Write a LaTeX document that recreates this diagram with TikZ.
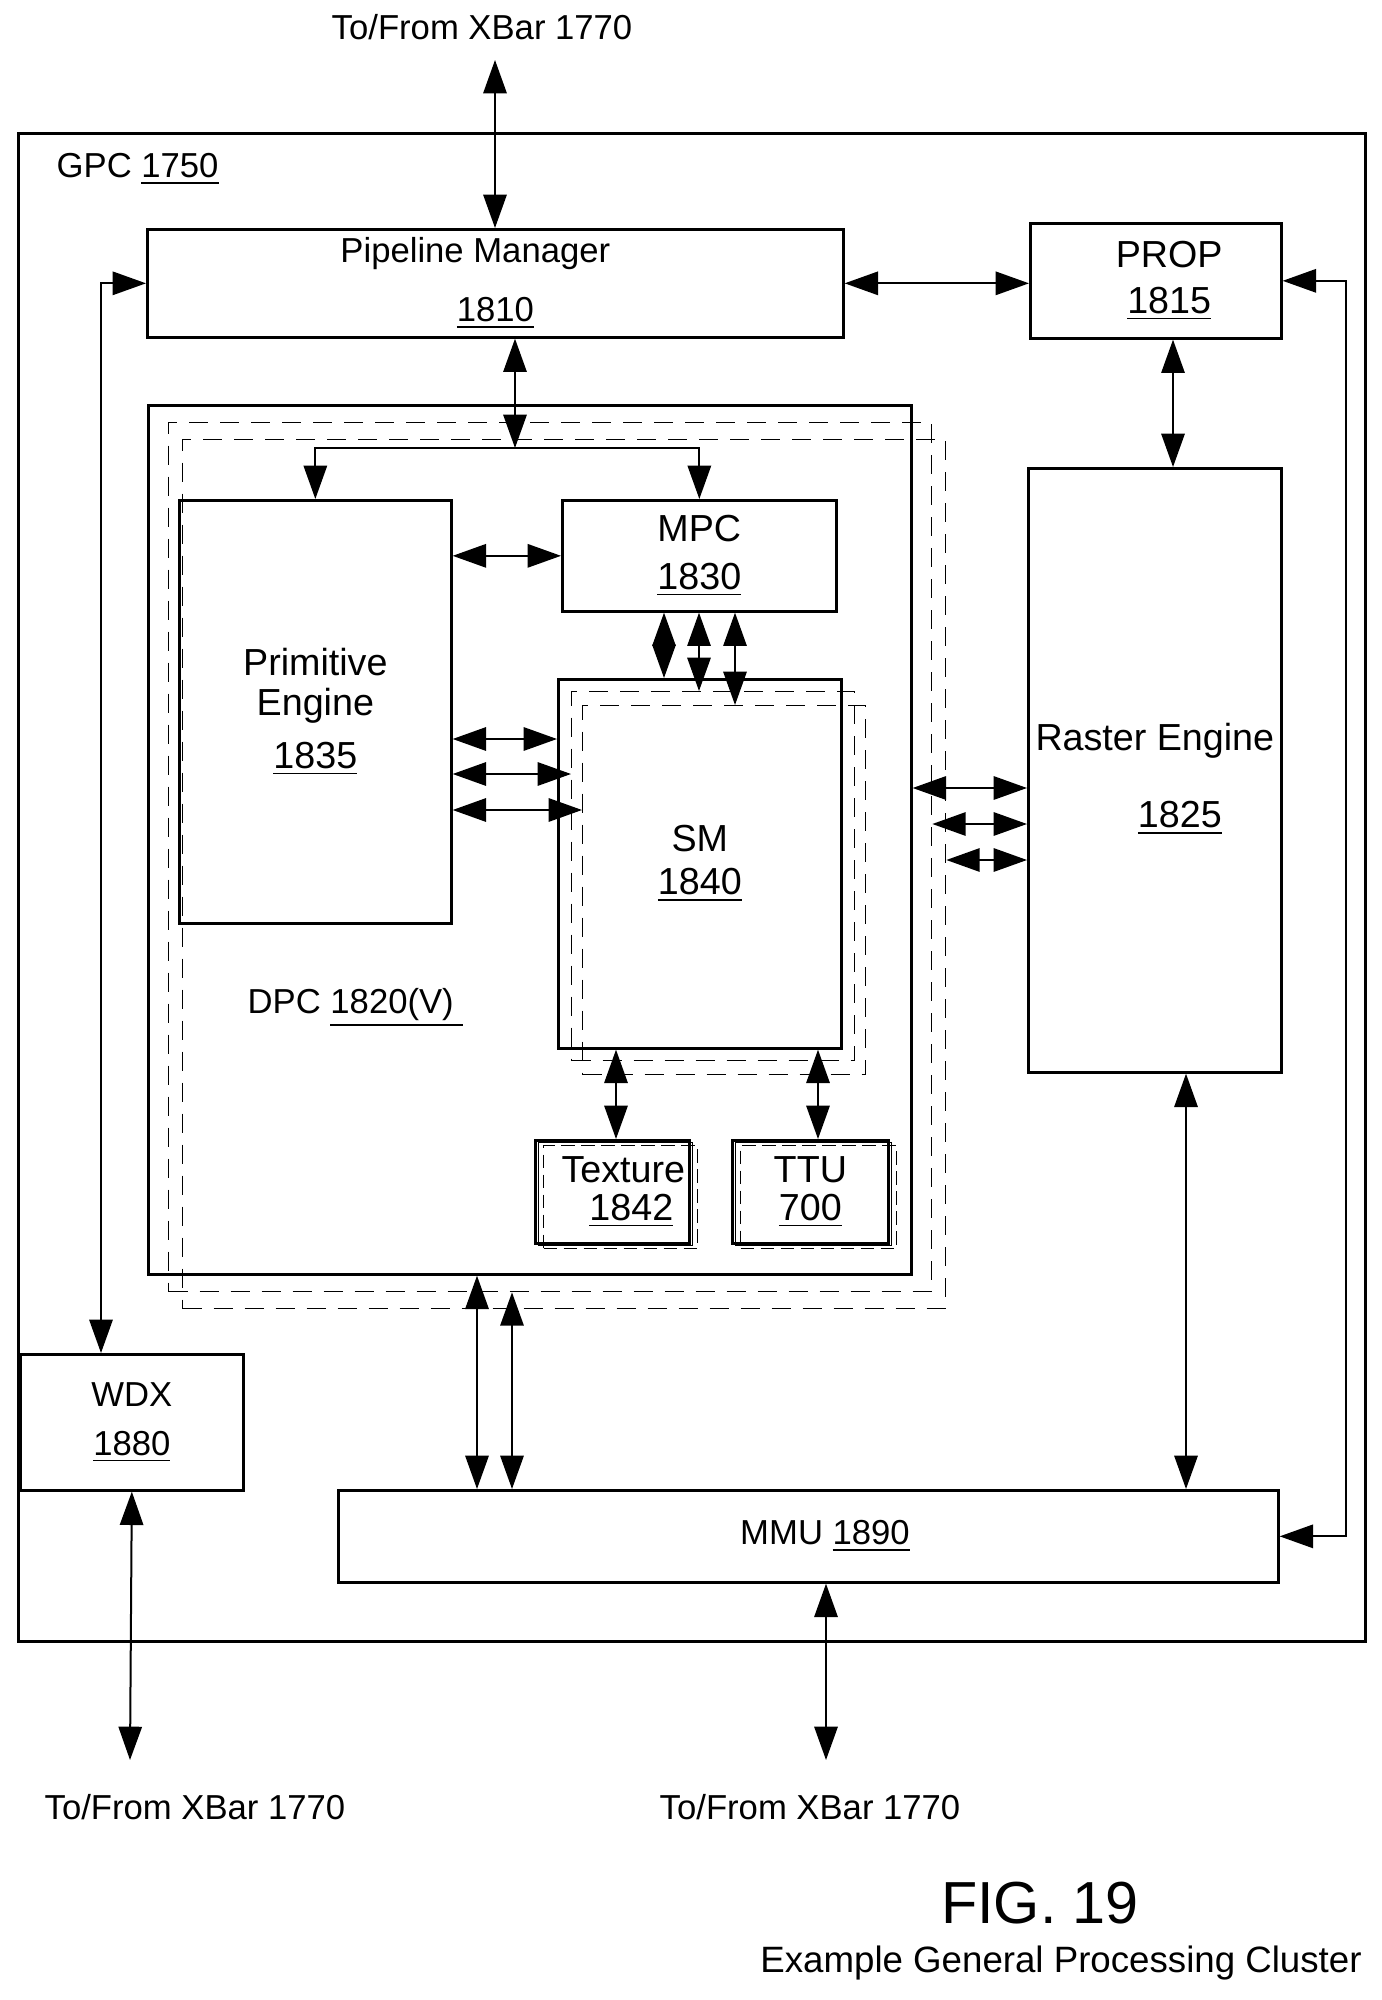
\documentclass[tikz,border=0pt]{standalone}
\usepackage{fontspec}
\setmainfont{Liberation Sans}
\usetikzlibrary{arrows.meta}

\begin{document}
\begin{tikzpicture}[x=0.3pt, y=-0.3pt,
      box/.style={draw, line width=0.8pt, inner sep=0pt, anchor=north west, align=center,
                  font=\fontsize{11.3}{12}\selectfont},
      boxsize/.style 2 args={minimum width=#1*0.3pt, minimum height=#2*0.3pt},
      sml/.style={font=\fontsize{10.4}{12}\selectfont},
      ghost/.style={draw, line width=0.4pt, dash pattern=on 5.7pt off 3.6pt, inner sep=0pt,
                    anchor=north west},
      txt/.style={inner sep=0pt, anchor=base, font=\fontsize{10.4}{12}\selectfont},
      arr/.style={{Triangle[length=10pt,width=7pt]}-{Triangle[length=10pt,width=7pt]}, line width=0.6pt},
      arrto/.style={-{Triangle[length=10pt,width=7pt]}, line width=0.6pt}]
    \useasboundingbox (0,0) rectangle (1381,2000);

    \node[box, boxsize={1347}{1508}] (gpc) at (17,132) {};
    \node[txt, anchor=base west] (gpcl) at (56,178) {GPC \underline{1750}};
    \node[box, sml, boxsize={696}{108}] (pm) at (146,228)
      {Pipeline Manager\hspace*{12pt}\\[5.7pt]\underline{1810}};
    \node[box, boxsize={251}{115}] (prop) at (1029,222)
      {\hspace*{8pt}PROP\\[1.8pt]\hspace*{8pt}\underline{1815}};

    \node[ghost, boxsize={763}{869}] (dpcc) at (182,439) {};
    \node[ghost, boxsize={763}{869}] (dpcb) at (168,422) {};
    \node[box, boxsize={763}{869}] (dpc) at (147,404) {};
    \node[txt, anchor=base west] (dpcl) at (247,1013) {DPC \underline{1820(V)\ }};

    \node[box, boxsize={272}{423}] (pe) at (178,499)
      {Primitive\\Engine\\[3.9pt]\underline{1835}};
    \node[box, boxsize={274}{111}] (mpc) at (561,499) {MPC\\[2.4pt]\underline{1830}};

    \node[ghost, boxsize={283}{369}] (smc) at (582,705) {};
    \node[ghost, boxsize={283}{369}] (smb) at (571,691) {};
    \node[box, boxsize={283}{369}] (sm) at (557,678) {SM\\[0.9pt]\underline{1840}};

    \node[ghost, dash pattern=on 4pt off 2pt, boxsize={154}{103}] (texc) at (543,1145) {};
    \node[box, line width=0.4pt, boxsize={154}{103}] (texb) at (538,1142) {};
    \node[box, boxsize={154}{103}] (tex) at (534,1139)
      {\hspace*{6.6pt}Texture\\[-0.6pt]\hspace*{11.4pt}\underline{1842}};
    \node[ghost, dash pattern=on 4pt off 2pt, boxsize={156}{103}] (ttuc) at (740,1145) {};
    \node[box, line width=0.4pt, boxsize={156}{103}] (ttub) at (735,1142) {};
    \node[box, boxsize={156}{103}] (ttu) at (731,1139) {TTU\\[-0.6pt]\underline{700}};

    \node[box, boxsize={253}{604}] (ras) at (1027,467)
      {\rule{0pt}{13.5pt}Raster Engine\\[11.1pt]\hspace*{15pt}\underline{1825}};
    \node[box, sml, boxsize={223}{136}] (wdx) at (19,1353) {WDX\\[2.7pt]\underline{1880}};
    \node[box, sml, boxsize={940}{92}] (mmu) at (337,1489) {\hspace*{10pt}MMU \underline{1890}};

    \node[txt] (xbart) at (482,40) {To/From XBar 1770};
    \node[txt] (xbarl) at (195,1819) {To/From XBar 1770};
    \node[txt] (xbarr) at (810,1819) {To/From XBar 1770};
    \node[inner sep=0pt, anchor=base, font=\fontsize{17.8}{20}\selectfont] (fig) at (1040,1923) {FIG. 19};
    \node[inner sep=0pt, anchor=base, font=\fontsize{11}{13}\selectfont] (cap) at (1061,1972)
      {Example General Processing Cluster};

    \coordinate (top) at (495,60); \coordinate (br) at (515,448);
    \coordinate (lx) at (101,0); \coordinate (rx) at (1346,0);
    \coordinate (bl) at (130,1760); \coordinate (bm) at (826,1760);
    \coordinate (s1) at (664,0); \coordinate (s2) at (699,0); \coordinate (s3) at (735,0);
    \coordinate (h1) at (0,739); \coordinate (h2) at (0,774); \coordinate (h3) at (0,810);
    \coordinate (g1) at (0,788); \coordinate (g2) at (0,824); \coordinate (g3) at (0,860);
    \coordinate (t1) at (616,0); \coordinate (t2) at (818,0);
    \coordinate (d1) at (477,0); \coordinate (d2) at (512,0);
    \coordinate (r1) at (1173,0); \coordinate (r2) at (1186,0);

    \draw[arr] (top) -- (top |- pm.north); \draw[arr] (pm.east) -- (pm.east -| prop.west);
    \draw[arr] (pm.west) -| (lx |- wdx.north);
    \draw[arr] (prop.east) -- (prop.east -| rx) |- (mmu.east);
    \draw[arr] (br |- pm.south) -- (br);
    \draw[arrto] (br) -| (pe.north); \draw[arrto] (br) -| (mpc.north);
    \draw[arr] (pe.east |- mpc.west) -- (mpc.west);
    \draw[arr] (s1 |- mpc.south) -- (s1 |- sm.north); \draw[arr] (s2 |- mpc.south) -- (s2 |- smb.north);
    \draw[arr] (s3 |- mpc.south) -- (s3 |- smc.north);
    \draw[arr] (h1 -| pe.east) -- (h1 -| sm.west); \draw[arr] (h2 -| pe.east) -- (h2 -| smb.west);
    \draw[arr] (h3 -| pe.east) -- (h3 -| smc.west);
    \draw[arr] (g1 -| dpc.east) -- (g1 -| ras.west); \draw[arr] (g2 -| dpcb.east) -- (g2 -| ras.west);
    \draw[arr] (g3 -| dpcc.east) -- (g3 -| ras.west);
    \draw[arr] (t1 |- sm.south) -- (t1 |- tex.north); \draw[arr] (t2 |- sm.south) -- (t2 |- ttu.north);
    \draw[arr] (r1 |- prop.south) -- (r1 |- ras.north); \draw[arr] (r2 |- ras.south) -- (r2 |- mmu.north);
    \draw[arr] (d1 |- dpc.south) -- (d1 |- mmu.north); \draw[arr] (d2 |- dpcb.south) -- (d2 |- mmu.north);
    \draw[arr] (wdx.south) -- (bl); \draw[arr] (bm |- mmu.south) -- (bm);
  \end{tikzpicture}
\end{document}
